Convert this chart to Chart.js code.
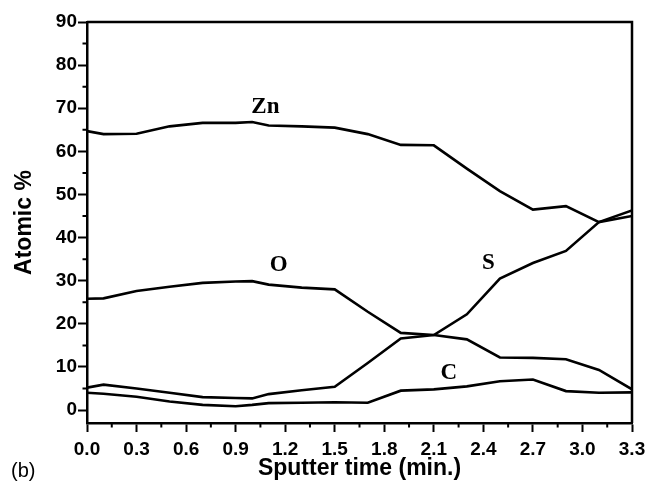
<!DOCTYPE html>
<html>
<head>
<meta charset="utf-8">
<script src="https://cdn.jsdelivr.net/npm/chart.js@4.4.0/dist/chart.umd.min.js"></script>
<style>
  html, body { margin: 0; padding: 0; background: #fff; }
  #wrap { width: 653px; height: 482px; }
</style>
</head>
<body>
<div id="wrap"><canvas id="myChart" width="653" height="482"></canvas></div>
<script>
// données
const times = [0, 0.1, 0.3, 0.5, 0.7, 0.9, 1.0, 1.1, 1.3, 1.5, 1.7, 1.9, 2.1, 2.3, 2.5, 2.7, 2.9, 3.1, 3.3];
const zn = [64.7, 64.0, 64.1, 65.8, 66.6, 66.6, 66.8, 66.0, 65.8, 65.5, 64.0, 61.5, 61.4, 56.0, 50.8, 46.5, 47.3, 43.6, 45.0];
const oxy = [25.8, 25.9, 27.6, 28.6, 29.5, 29.8, 29.9, 29.1, 28.4, 28.0, 22.8, 17.9, 17.4, 16.4, 12.2, 12.1, 11.8, 9.3, 4.8];
const sul = [5.2, 5.9, 5.0, 4.0, 3.0, 2.8, 2.7, 3.7, 4.6, 5.4, 10.9, 16.6, 17.4, 22.2, 30.5, 34.1, 36.9, 43.6, 46.3];
const carb = [4.0, 3.8, 3.1, 2.0, 1.2, 0.9, 1.2, 1.6, 1.7, 1.8, 1.7, 4.5, 4.8, 5.5, 6.7, 7.1, 4.4, 4.0, 4.1];

const xTicks = [0, 0.15, 0.3, 0.45, 0.6, 0.75, 0.9, 1.05, 1.2, 1.35, 1.5, 1.65, 1.8, 1.95, 2.1, 2.25, 2.4, 2.55, 2.7, 2.85, 3.0, 3.15, 3.3];
const yTicks = [0, 5, 10, 15, 20, 25, 30, 35, 40, 45, 50, 55, 60, 65, 70, 75, 80, 85, 90];

// étiquettes des courbes (position en unités des axes)
const seriesNames = ["Zn", "O", "S", "C"];
const nameX = [1.08, 1.16, 2.43, 2.19];
const nameY = [70.2, 33.6, 34.2, 8.5];

const isMajorX = (v) => Math.abs(Math.round(v / 0.3) * 0.3 - v) < 1e-6;
const isMajorY = (v) => v % 10 === 0;

const toPts = (arr) => arr.map((v, i) => ({ x: times[i], y: v }));

// ticks mineurs, cadre et textes
const extras = {
  id: "extras",
  afterDraw(chart) {
    const c = chart.ctx;
    const a = chart.chartArea;
    const xs = chart.scales.x;
    const ys = chart.scales.y;
    c.save();
    c.strokeStyle = "#000";
    c.lineWidth = 2.5;
    c.beginPath();
    c.moveTo(a.left, a.top);
    c.lineTo(a.right, a.top);
    c.lineTo(a.right, a.bottom);
    c.stroke();
    c.lineWidth = 2;
    c.beginPath();
    xTicks.forEach((v) => {
      if (!isMajorX(v)) {
        const px = xs.getPixelForValue(v);
        c.moveTo(px, a.bottom);
        c.lineTo(px, a.bottom + 4.5);
      }
    });
    yTicks.forEach((v) => {
      if (!isMajorY(v)) {
        const py = ys.getPixelForValue(v);
        c.moveTo(a.left, py);
        c.lineTo(a.left - 4.5, py);
      }
    });
    c.stroke();
    c.fillStyle = "#000";
    c.font = "bold 23px 'Liberation Serif'";
    c.textAlign = "center";
    c.textBaseline = "middle";
    seriesNames.forEach((n, i) => {
      c.fillText(n, xs.getPixelForValue(nameX[i]), ys.getPixelForValue(nameY[i]));
    });
    c.font = "20px 'Liberation Sans'";
    c.textAlign = "left";
    c.textBaseline = "alphabetic";
    c.fillText("(b)", 11, 477);
    c.restore();
  },
};

const mkSet = (label, arr) => ({
  label: label,
  data: toPts(arr),
  borderColor: "#000",
  borderWidth: 2.6,
  pointRadius: 0,
  tension: 0,
  fill: false,
});

const ctx = document.getElementById("myChart");
const chart = new Chart(ctx, {
  type: "line",
  data: {
    datasets: [mkSet("Zn", zn), mkSet("O", oxy), mkSet("S", sul), mkSet("C", carb)],
  },
  options: {
    responsive: false,
    animation: false,
    layout: { padding: { top: 22, right: 21, left: 0, bottom: 0 } },
    plugins: { legend: { display: false }, tooltip: { enabled: false } },
    scales: {
      x: {
        type: "linear",
        min: 0,
        max: 3.3,
        afterBuildTicks: (s) => { s.ticks = xTicks.map((v) => ({ value: v })); },
        afterFit: (s) => { s.height = 59; },
        ticks: {
          autoSkip: false,
          maxRotation: 0,
          padding: 6,
          color: "#000",
          font: { family: "'Liberation Sans'", size: 19, weight: "bold" },
          callback: (v) => (isMajorX(v) ? v.toFixed(1) : ""),
        },
        grid: {
          drawOnChartArea: false,
          tickLength: 9,
          tickWidth: 2,
          tickColor: (c) => (c.tick && isMajorX(c.tick.value) ? "#000" : "rgba(0,0,0,0)"),
        },
        border: { color: "#000", width: 2.5 },
        title: {
          display: true,
          text: "Sputter time (min.)",
          color: "#000",
          font: { family: "'Liberation Sans'", size: 23, weight: "bold", lineHeight: 1.2 },
          padding: { top: 0, bottom: 0 },
        },
      },
      y: {
        min: -3,
        max: 90,
        afterBuildTicks: (s) => { s.ticks = yTicks.map((v) => ({ value: v })); },
        afterFit: (s) => { s.width = 87; },
        ticks: {
          autoSkip: false,
          padding: 1,
          color: "#000",
          font: { family: "'Liberation Sans'", size: 19, weight: "bold" },
          callback: (v) => (isMajorY(v) ? String(v) : ""),
        },
        grid: {
          drawOnChartArea: false,
          tickLength: 9,
          tickWidth: 2,
          tickColor: (c) => (c.tick && isMajorY(c.tick.value) ? "#000" : "rgba(0,0,0,0)"),
        },
        border: { color: "#000", width: 2.5 },
        title: {
          display: true,
          text: "Atomic %",
          color: "#000",
          font: { family: "'Liberation Sans'", size: 23, weight: "bold", lineHeight: 1.2 },
          padding: { top: 11, bottom: 0 },
        },
      },
    },
  },
  plugins: [extras],
});
</script>
</body>
</html>
